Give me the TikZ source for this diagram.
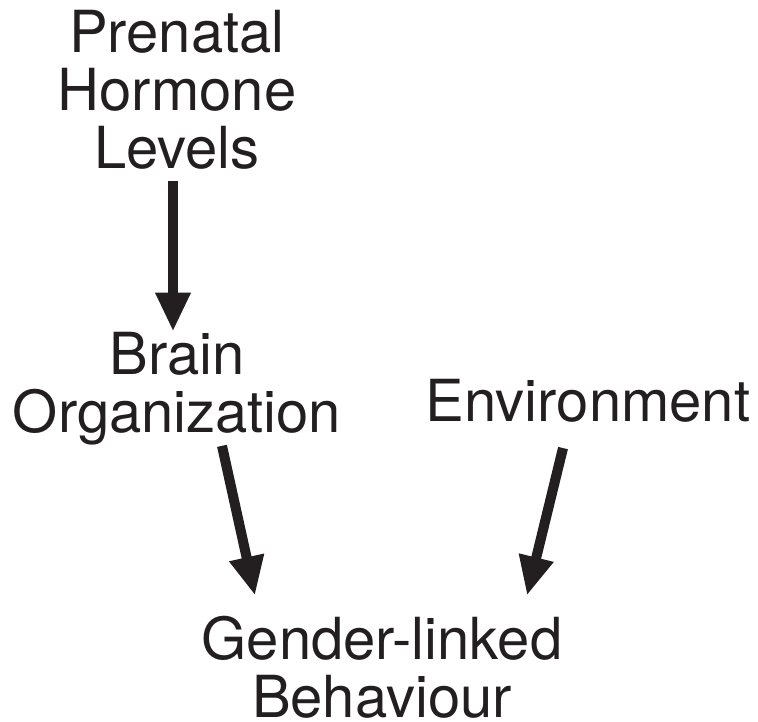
\documentclass[tikz,border=0pt]{standalone}
\usepackage{fontspec}
\setmainfont{TeX Gyre Heros}
\usetikzlibrary{arrows.meta}
\definecolor{ink}{HTML}{231F20}

\begin{document}
\begin{tikzpicture}[
    label/.style={inner sep=0pt, align=center, text=ink, anchor=base,
                  font=\fontsize{58}{58}\selectfont},
    link/.style={draw=ink, line width=10pt, -{Triangle[length=39pt,width=33pt]}}]
    \useasboundingbox (0pt,0pt) rectangle (758pt,-721pt);
    \node[label] (levels) at (177pt,-168pt) {Prenatal\\Hormone\\Levels};
    \node[label] (brain) at (177pt,-432pt) {Brain\\Organization};
    \node[label] (env) at (588pt,-421pt) {Environment};
    \node[label] (gender) at (382pt,-717pt) {Gender-linked\\Behaviour};
    \draw[link] ([xshift=-4pt,yshift=-12pt]levels.south) -- ([xshift=-4pt]brain.north);
    \draw[link] ([xshift=45pt,yshift=-1pt]brain.south) -- ([xshift=-127pt,yshift=20pt]gender.north);
    \draw[link] ([xshift=-25pt,yshift=-26pt]env.south) -- ([xshift=145pt,yshift=20pt]gender.north);
\end{tikzpicture}
\end{document}
